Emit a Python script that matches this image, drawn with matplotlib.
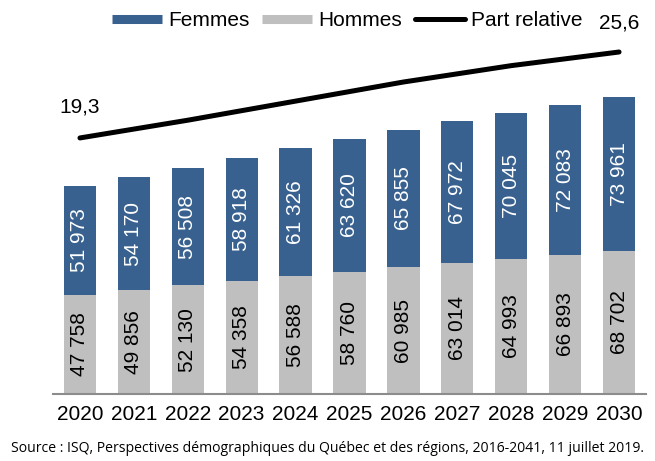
import matplotlib.pyplot as plt
from matplotlib.lines import Line2D

years = ["2020", "2021", "2022", "2023", "2024", "2025", "2026", "2027", "2028", "2029", "2030"]
hommes = [47758, 49856, 52130, 54358, 56588, 58760, 60985, 63014, 64993, 66893, 68702]
femmes = [51973, 54170, 56508, 58918, 61326, 63620, 65855, 67972, 70045, 72083, 73961]
part = [19.3, 19.95, 20.6, 21.3, 22.0, 22.7, 23.4, 24.0, 24.6, 25.1, 25.6]

blue = "#38618f"
gray = "#bfbfbf"

plt.rcParams['font.family'] = ['Liberation Sans', 'DejaVu Sans']

fig = plt.figure(figsize=(6.55, 4.61), dpi=100)
ax = fig.add_axes([53 / 655, 67 / 461, 593 / 655, 354 / 461])
x = range(len(years))

ax.bar(x, hommes, width=0.6, color=gray)
ax.bar(x, femmes, width=0.6, bottom=hommes, color=blue)

for i in x:
    ax.text(i, hommes[i] / 2, f"{hommes[i]:,}".replace(",", " "),
            rotation=90, ha="center", va="center", fontsize=15, color="black")
    ax.text(i, hommes[i] + femmes[i] / 2, f"{femmes[i]:,}".replace(",", " "),
            rotation=90, ha="center", va="center", fontsize=15, color="white")

ax.set_xlim(-0.5, 10.5)
ax.set_ylim(0, 170000)
ax.set_xticks(list(x))
ax.set_xticklabels(years, fontsize=15)
ax.tick_params(axis="x", length=0, pad=8)
ax.set_yticks([])
for s in ["top", "left", "right"]:
    ax.spines[s].set_visible(False)
ax.spines["bottom"].set_color("#8c8c8c")
ax.spines["bottom"].set_linewidth(1.5)

ax2 = ax.twinx()
ax2.plot(list(x), part, color="black", lw=3.6, solid_capstyle="round")
ax2.set_ylim(0.53, 26.48)
ax2.set_yticks([])
for s in ax2.spines.values():
    s.set_visible(False)

ax2.annotate("19,3", (0, part[0]), xytext=(0, 22), textcoords="offset points",
             ha="center", va="center", fontsize=15)
ax2.annotate("25,6", (10, part[-1]), xytext=(0, 21), textcoords="offset points",
             ha="center", va="center", fontsize=15)

handles = [
    Line2D([], [], color=blue, lw=6.5, solid_capstyle="butt"),
    Line2D([], [], color=gray, lw=6.5, solid_capstyle="butt"),
    Line2D([], [], color="black", lw=3.6, solid_capstyle="round"),
]
fig.legend(handles, ["Femmes", "Hommes", "Part relative"], loc="center",
           bbox_to_anchor=(0.53, 0.955), ncol=3, frameon=False, fontsize=15,
           handlelength=2.4, handletextpad=0.3, columnspacing=0.6,
           borderpad=0, borderaxespad=0)

fig.text(0.500, 1 - 448 / 461,
         "Source : ISQ, Perspectives démographiques du Québec et des régions, 2016-2041, 11 juillet 2019.",
         ha="center", va="center", fontsize=10.1, family=["Open Sans", "DejaVu Sans"])

fig.savefig("out.png", dpi=100)
